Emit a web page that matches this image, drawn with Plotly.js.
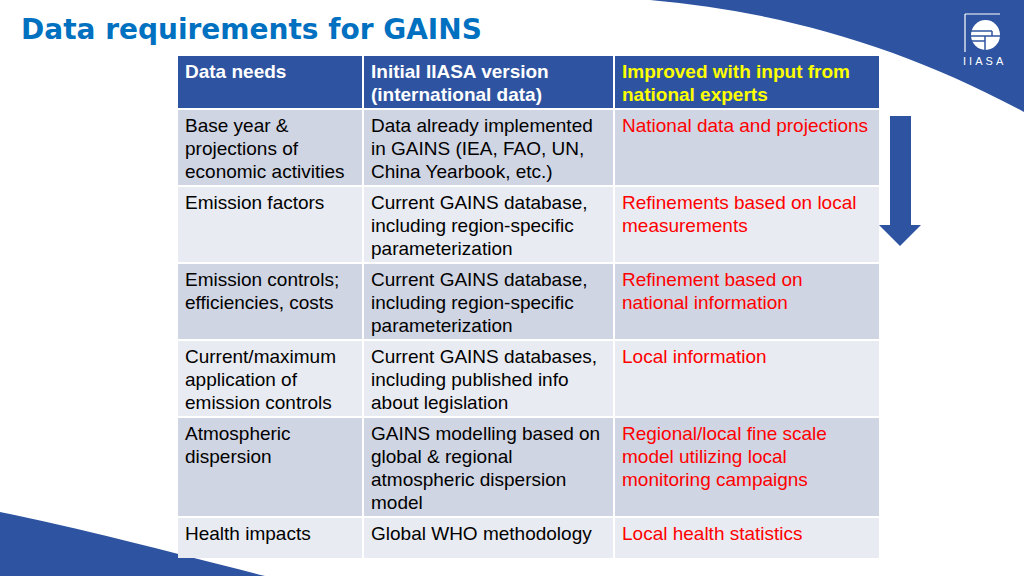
<!DOCTYPE html>
<html><head><meta charset="utf-8">
<script src="https://cdn.plot.ly/plotly-3.0.1.min.js"></script>
<style>html,body{margin:0;padding:0;background:#fff;overflow:hidden}#chart{width:1024px;height:576px}</style>
</head><body><div id="chart"></div>
<script>
// ---- data ----
const headers = ["Data needs", "Initial IIASA version<br>(international data)", "Improved with input from<br>national experts"];
const dataNeeds = ["Base year &<br>projections of<br>economic activities", "Emission factors", "Emission controls;<br>efficiencies, costs", "Current/maximum<br>application of<br>emission controls", "Atmospheric<br>dispersion", "Health impacts"];
const initialVersion = ["Data already implemented<br>in GAINS (IEA, FAO, UN,<br>China Yearbook, etc.)", "Current GAINS database,<br>including region-specific<br>parameterization", "Current GAINS database,<br>including region-specific<br>parameterization", "Current GAINS databases,<br>including published info<br>about legislation", "GAINS modelling based on<br>global & regional<br>atmospheric dispersion<br>model", "Global WHO methodology"];
const improved = ["National data and projections", "Refinements based on local<br>measurements", "Refinement based on<br>national information", "Local information", "Regional/local fine scale<br>model utilizing local<br>monitoring campaigns", "Local health statistics"];
const titleText = "Data requirements for GAINS";
const logoText = "I\u00A0I\u00A0A\u00A0S\u00A0A";

// ---- style / geometry ----
const BLUE = "#2E54A1";
const DARK = "#D0D5E3", LIGHT = "#E9EBF2";
const colEdges = [178, 364, 615, 879];   // left edges of columns, last = right edge of table
const GAP = 2, LINE = 23, PAD = 8, MINROW = 42;
const TOP = 56;
const FONT = "Liberation Sans, Arial, sans-serif";
const FS = 19;

const shapes = [];
const annotations = [];

// decorations
shapes.push({type:"path", xref:"x", yref:"y", path:"M 650 0 C 785 12, 905 48, 1024 112 L 1024 0 Z", fillcolor:BLUE, line:{width:0}, layer:"below"});
shapes.push({type:"path", xref:"x", yref:"y", path:"M 0 512 C 80 528, 170 552, 265 576 L 0 576 Z", fillcolor:BLUE, line:{width:0}, layer:"below"});
// arrow
shapes.push({type:"path", xref:"x", yref:"y", path:"M 890 116 L 911 116 L 911 225 L 921 225 L 900 246 L 879 225 L 890 225 Z", fillcolor:BLUE, line:{width:0}});
// logo
shapes.push({type:"line", xref:"x", yref:"y", x0:965, x1:965, y0:14, y1:52, line:{color:"#ffffff", width:1.2}});
shapes.push({type:"line", xref:"x", yref:"y", x0:965, x1:1000, y0:14, y1:14, line:{color:"#ffffff", width:1.2}});
shapes.push({type:"circle", xref:"x", yref:"y", x0:971, x1:1000, y0:20, y1:50, fillcolor:"#ffffff", line:{width:0}});
[[970,992,31],[970,1001,36],[970,985,41]].forEach(s=>shapes.push({type:"line", xref:"x", yref:"y", x0:s[0], x1:s[1], y0:s[2], y1:s[2], line:{color:BLUE, width:1.5}}));
shapes.push({type:"line", xref:"x", yref:"y", x0:985, x1:985, y0:36, y1:51, line:{color:BLUE, width:1.5}});
shapes.push({type:"line", xref:"x", yref:"y", x0:992, x1:992, y0:31, y1:36, line:{color:BLUE, width:1.5}});
annotations.push({xref:"x", yref:"y", x:983, y:61, text:logoText, showarrow:false, xanchor:"center", yanchor:"middle", font:{family:FONT, size:11, color:"#ffffff"}});

// title
annotations.push({xref:"x", yref:"y", x:19, y:29, text:titleText, showarrow:false, xanchor:"left", yanchor:"middle", font:{family:"DejaVu Sans, Verdana, sans-serif", size:28, color:"#0070C0", weight:700}});

// table
function nLines(s){ return s.split("<br>").length; }
function addRow(cells, top, fill, colors, bold){
  const lines = Math.max(...cells.map(nLines));
  const pitch = Math.max(lines*LINE + PAD, bold ? 0 : MINROW);
  for(let c=0;c<cells.length;c++){
    const x0 = colEdges[c], x1 = colEdges[c+1] - (c < cells.length-1 ? GAP : 0);
    shapes.push({type:"rect", xref:"x", yref:"y", x0:x0, x1:x1, y0:top, y1:top+pitch-GAP, fillcolor:fill, line:{width:0}, layer:"below"});
    cells[c].split("<br>").forEach((ln,i)=>{
      annotations.push({xref:"x", yref:"y", x:x0+5, y:top+15+i*LINE, text:ln, showarrow:false, xanchor:"left", yanchor:"middle",
        font:{family:FONT, size:FS, color:colors[c], weight: bold?700:400}});
    });
  }
  return top + pitch;
}
let y = addRow(headers, TOP, BLUE, ["#ffffff","#ffffff","#FFFF00"], true);
for(let r=0;r<dataNeeds.length;r++){
  y = addRow([dataNeeds[r], initialVersion[r], improved[r]], y, r%2===0?DARK:LIGHT, ["#000000","#000000","#FF0000"], false);
}

const layout = {
  width:1024, height:576,
  margin:{l:0,r:0,t:0,b:0},
  paper_bgcolor:"#ffffff", plot_bgcolor:"#ffffff",
  xaxis:{range:[0,1024], visible:false, fixedrange:true},
  yaxis:{range:[576,0], visible:false, fixedrange:true},
  showlegend:false,
  shapes:shapes, annotations:annotations
};
Plotly.newPlot("chart", [], layout, {displayModeBar:false, staticPlot:true});
</script></body></html>
